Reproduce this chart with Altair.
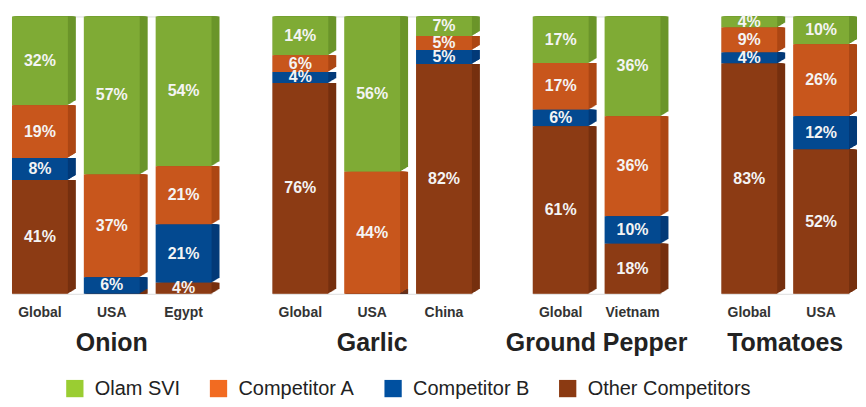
import altair as alt
import pandas as pd

products = ["Onion", "Onion", "Onion", "Garlic", "Garlic", "Garlic",
            "Ground Pepper", "Ground Pepper", "Tomatoes", "Tomatoes"]
countries = ["Global", "USA", "Egypt", "Global", "USA", "China",
             "Global", "Vietnam", "Global", "USA"]
series = ["Olam SVI", "Competitor A", "Competitor B", "Other Competitors"]
olam = [32, 57, 54, 14, 56, 7, 17, 36, 4, 10]
comp_a = [19, 37, 21, 6, 44, 5, 17, 36, 9, 26]
comp_b = [8, 6, 21, 4, 0, 5, 6, 10, 4, 12]
other = [41, 0, 4, 76, 0, 82, 61, 18, 83, 52]

front_colors = ["#7fab35", "#c8561c", "#034990", "#8c3b14"]
side_colors = ["#6b952a", "#ad4714", "#033a78", "#76300f"]
legend_colors = ["#9acd32", "#f26b21", "#0050a0", "#8b3a12"]
stack_order = [3, 2, 1, 0]

rows = []
for i, (p, c) in enumerate(zip(products, countries)):
    vals = [olam[i], comp_a[i], comp_b[i], other[i]]
    for j, s in enumerate(series):
        rows.append({"product": p, "country": c, "xi": i, "series": s,
                     "value": vals[j], "ord": stack_order[j],
                     "front": front_colors[j], "side": side_colors[j],
                     "label": f"{vals[j]}%" if vals[j] > 0 else ""})
df = pd.DataFrame(rows)

FONT = "Liberation Sans"

x_enc = alt.X("country:N", sort=alt.EncodingSortField("xi", op="min"),
              scale=alt.Scale(paddingInner=0.222, paddingOuter=0),
              axis=alt.Axis(title=None, labelAngle=0, ticks=False, domain=False,
                            labelFontWeight="bold", labelFontSize=14, labelFont=FONT,
                            labelColor="#333333", labelPadding=12))
y_scale = alt.Scale(domain=[0, 1])

base = alt.Chart().transform_stack(
    stack="value", groupby=["product", "country"], as_=["y0", "y1"],
    offset="normalize", sort=[alt.SortField("ord", order="ascending")]
)

layers = []
depth = 8
for k in range(depth, 0, -1):
    layers.append(
        base.mark_bar(xOffset=k, yOffset=-0.6 * k).encode(
            x=x_enc,
            y=alt.Y("y0:Q", scale=y_scale, axis=None),
            y2="y1:Q",
            fill=alt.Fill("side:N", scale=None),
        )
    )

front = base.mark_bar().encode(
    x=x_enc,
    y=alt.Y("y0:Q", scale=y_scale, axis=None),
    y2="y1:Q",
    fill=alt.Fill("front:N", scale=None),
)

legend_layer = base.mark_bar(opacity=0).encode(
    x=x_enc,
    y=alt.Y("y0:Q", scale=y_scale, axis=None),
    y2="y1:Q",
    color=alt.Color("series:N", sort=series,
                    scale=alt.Scale(domain=series, range=legend_colors),
                    legend=alt.Legend(title=None, orient="none", direction="horizontal",
                                      legendX=53, legendY=363,
                                      symbolType="square", symbolSize=300,
                                      symbolOpacity=1, symbolStrokeWidth=0,
                                      labelFontSize=20, labelFont=FONT,
                                      labelColor="#222222", columnPadding=28,
                                      labelOffset=10, labelLimit=300)),
)

text = base.transform_filter("datum.value > 0").transform_calculate(
    mid="(datum.y0 + datum.y1) / 2"
).mark_text(fontSize=16, fontWeight="bold", font=FONT, color="#f4f4f4",
            baseline="middle").encode(
    x=x_enc,
    y=alt.Y("mid:Q", scale=y_scale, axis=None),
    text="label:N",
)

layered = alt.layer(*layers, front, legend_layer, text).properties(
    width=alt.Step(72), height=278
)

chart = layered.facet(
    data=df,
    column=alt.Column("product:N", sort=["Onion", "Garlic", "Ground Pepper", "Tomatoes"],
                      header=alt.Header(title=None, labelOrient="bottom",
                                        labelFontSize=25, labelFontWeight="bold",
                                        labelFont=FONT, labelColor="#222222",
                                        labelPadding=10)),
    spacing=51,
).resolve_scale(x="independent").properties(
    padding={"left": 3, "top": 5, "right": 0, "bottom": 0}
).configure_view(stroke=None).configure(
    background="white"
)

chart.save("out.html", embed_options={"renderer": "svg", "actions": False})
